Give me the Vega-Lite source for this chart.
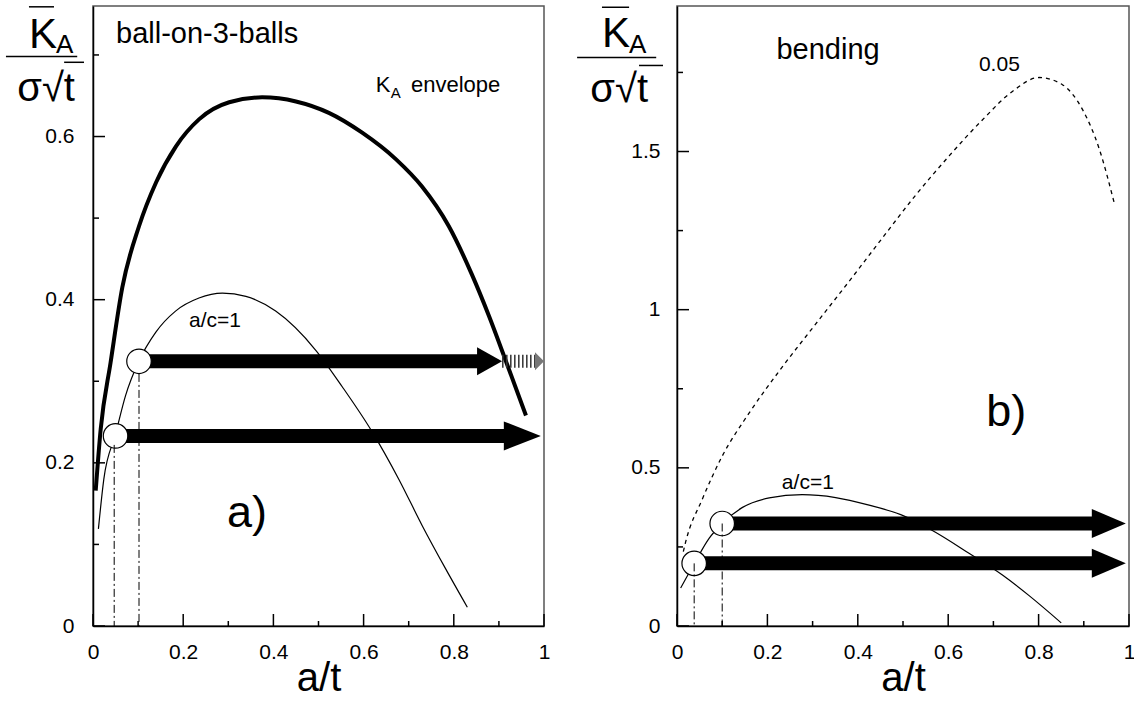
{
  "$schema": "https://vega.github.io/schema/vega-lite/v6.json",
  "padding": {"left": 4, "top": 5, "right": 0, "bottom": 0},
  "bounds": "flush",
  "spacing": 133,
  "config": {
    "font": "Liberation Sans",
    "view": {"stroke": "#555", "strokeWidth": 1.5},
    "axis": {"grid": false, "ticks": false, "domainColor": "black", "domainWidth": 1.5, "labelColor": "black", "labelFontSize": 21, "labelFont": "Liberation Sans", "titleFont": "Liberation Sans", "titleFontWeight": "normal", "titleColor": "black", "titleFontSize": 40},
    "text": {"color": "black", "baseline": "alphabetic", "align": "left", "font": "Liberation Sans"}
  },
  "datasets": {
    "curvesL": [
      {"s": "env", "x": 0.006, "y": 0.166}, {"s": "env", "x": 0.017, "y": 0.241}, {"s": "env", "x": 0.039, "y": 0.323}, {"s": "env", "x": 0.065, "y": 0.415}, {"s": "env", "x": 0.102, "y": 0.49}, {"s": "env", "x": 0.14, "y": 0.544}, {"s": "env", "x": 0.184, "y": 0.588}, {"s": "env", "x": 0.235, "y": 0.621}, {"s": "env", "x": 0.302, "y": 0.642}, {"s": "env", "x": 0.375, "y": 0.648}, {"s": "env", "x": 0.45, "y": 0.643}, {"s": "env", "x": 0.523, "y": 0.629}, {"s": "env", "x": 0.596, "y": 0.605}, {"s": "env", "x": 0.672, "y": 0.572}, {"s": "env", "x": 0.729, "y": 0.539}, {"s": "env", "x": 0.789, "y": 0.49}, {"s": "env", "x": 0.84, "y": 0.431}, {"s": "env", "x": 0.878, "y": 0.38}, {"s": "env", "x": 0.916, "y": 0.324}, {"s": "env", "x": 0.96, "y": 0.258},
      {"s": "ac", "x": 0.012, "y": 0.119}, {"s": "ac", "x": 0.024, "y": 0.18}, {"s": "ac", "x": 0.05, "y": 0.235}, {"s": "ac", "x": 0.072, "y": 0.282}, {"s": "ac", "x": 0.102, "y": 0.325}, {"s": "ac", "x": 0.139, "y": 0.36}, {"s": "ac", "x": 0.183, "y": 0.386}, {"s": "ac", "x": 0.235, "y": 0.402}, {"s": "ac", "x": 0.287, "y": 0.408}, {"s": "ac", "x": 0.339, "y": 0.404}, {"s": "ac", "x": 0.405, "y": 0.386}, {"s": "ac", "x": 0.494, "y": 0.338}, {"s": "ac", "x": 0.553, "y": 0.293}, {"s": "ac", "x": 0.619, "y": 0.238}, {"s": "ac", "x": 0.678, "y": 0.18}, {"s": "ac", "x": 0.73, "y": 0.123}, {"s": "ac", "x": 0.782, "y": 0.07}, {"s": "ac", "x": 0.83, "y": 0.023}
    ],
    "curvesR": [
      {"s": "ac", "x": 0.008, "y": 0.12}, {"s": "ac", "x": 0.038, "y": 0.197}, {"s": "ac", "x": 0.071, "y": 0.277}, {"s": "ac", "x": 0.1, "y": 0.324}, {"s": "ac", "x": 0.145, "y": 0.375}, {"s": "ac", "x": 0.204, "y": 0.405}, {"s": "ac", "x": 0.277, "y": 0.415}, {"s": "ac", "x": 0.351, "y": 0.406}, {"s": "ac", "x": 0.425, "y": 0.382}, {"s": "ac", "x": 0.495, "y": 0.352}, {"s": "ac", "x": 0.565, "y": 0.302}, {"s": "ac", "x": 0.646, "y": 0.23}, {"s": "ac", "x": 0.72, "y": 0.161}, {"s": "ac", "x": 0.779, "y": 0.096}, {"s": "ac", "x": 0.85, "y": 0.01},
      {"s": "d", "x": 0.014, "y": 0.235}, {"s": "d", "x": 0.019, "y": 0.265}, {"s": "d", "x": 0.056, "y": 0.401}, {"s": "d", "x": 0.1, "y": 0.537}, {"s": "d", "x": 0.159, "y": 0.672}, {"s": "d", "x": 0.233, "y": 0.819}, {"s": "d", "x": 0.307, "y": 0.955}, {"s": "d", "x": 0.381, "y": 1.09}, {"s": "d", "x": 0.454, "y": 1.226}, {"s": "d", "x": 0.528, "y": 1.362}, {"s": "d", "x": 0.602, "y": 1.486}, {"s": "d", "x": 0.675, "y": 1.599}, {"s": "d", "x": 0.742, "y": 1.69}, {"s": "d", "x": 0.801, "y": 1.734}, {"s": "d", "x": 0.852, "y": 1.712}, {"s": "d", "x": 0.897, "y": 1.633}, {"s": "d", "x": 0.934, "y": 1.509}, {"s": "d", "x": 0.967, "y": 1.339}
    ],
    "arrowsL": [
      {"id": "up", "x": 0.102, "x2": 0.86, "xt": 0.907, "y": 0.3245},
      {"id": "lo", "x": 0.05, "x2": 0.92, "xt": 0.993, "y": 0.233}
    ],
    "hatchL": [{"x": 0.907, "x2": 0.985, "xt": 1.0, "y": 0.3245}],
    "arrowsR": [
      {"id": "up", "x": 0.1, "x2": 0.925, "xt": 0.993, "y": 0.324},
      {"id": "lo", "x": 0.038, "x2": 0.925, "xt": 0.993, "y": 0.198}
    ],
    "circlesL": [{"x": 0.102, "y": 0.3245}, {"x": 0.05, "y": 0.233}],
    "circlesR": [{"x": 0.1, "y": 0.324}, {"x": 0.038, "y": 0.198}],
    "vlinesL": [{"x": 0.047, "y": 0.222}, {"x": 0.102, "y": 0.309}],
    "vlinesR": [{"x": 0.038, "y": 0.198}, {"x": 0.1, "y": 0.324}],
    "xticks": [
      {"x": 0, "y": 0, "m": "M"}, {"x": 0.1, "y": 0, "m": "m"}, {"x": 0.2, "y": 0, "m": "M"}, {"x": 0.3, "y": 0, "m": "m"}, {"x": 0.4, "y": 0, "m": "M"}, {"x": 0.5, "y": 0, "m": "m"}, {"x": 0.6, "y": 0, "m": "M"}, {"x": 0.7, "y": 0, "m": "m"}, {"x": 0.8, "y": 0, "m": "M"}, {"x": 0.9, "y": 0, "m": "m"}, {"x": 1, "y": 0, "m": "M"}
    ],
    "yticksL": [
      {"x": 0, "y": 0, "m": "M"}, {"x": 0, "y": 0.1, "m": "m"}, {"x": 0, "y": 0.2, "m": "M"}, {"x": 0, "y": 0.3, "m": "m"}, {"x": 0, "y": 0.4, "m": "M"}, {"x": 0, "y": 0.5, "m": "m"}, {"x": 0, "y": 0.6, "m": "M"}, {"x": 0, "y": 0.7, "m": "m"}
    ],
    "yticksR": [
      {"x": 0, "y": 0, "m": "M"}, {"x": 0, "y": 0.25, "m": "m"}, {"x": 0, "y": 0.5, "m": "M"}, {"x": 0, "y": 0.75, "m": "m"}, {"x": 0, "y": 1, "m": "M"}, {"x": 0, "y": 1.25, "m": "m"}, {"x": 0, "y": 1.5, "m": "M"}, {"x": 0, "y": 1.75, "m": "m"}
    ],
    "textL": [
      {"k": "title", "x": 0.051, "y": 0.715, "t": "ball-on-3-balls"},
      {"k": "med", "x": 0.627, "y": 0.655, "t": "K"},
      {"k": "sub", "x": 0.66, "y": 0.647, "t": "A"},
      {"k": "med", "x": 0.705, "y": 0.655, "t": "envelope"},
      {"k": "lab", "x": 0.213, "y": 0.366, "t": "a/c=1"},
      {"k": "big", "x": 0.297, "y": 0.121, "t": "a)"},
      {"k": "fracK", "x": -0.142, "y": 0.709, "t": "K"},
      {"k": "fracA", "x": -0.082, "y": 0.703, "t": "A"},
      {"k": "fracD", "x": -0.104, "y": 0.643, "t": "σ√t"}
    ],
    "textR": [
      {"k": "title", "x": 0.22, "y": 1.791, "t": "bending"},
      {"k": "lab", "x": 0.668, "y": 1.756, "t": "0.05"},
      {"k": "lab", "x": 0.232, "y": 0.434, "t": "a/c=1"},
      {"k": "big", "x": 0.684, "y": 0.633, "t": "b)"},
      {"k": "fracK", "x": -0.166, "y": 1.829, "t": "K"},
      {"k": "fracA", "x": -0.106, "y": 1.81, "t": "A"},
      {"k": "fracD", "x": -0.128, "y": 1.655, "t": "σ√t"}
    ],
    "rulesL": [
      {"x": -0.142, "x2": -0.0865, "y": 0.759},
      {"x": -0.193, "x2": -0.035, "y": 0.698},
      {"x": -0.064, "x2": -0.02, "y": 0.691}
    ],
    "rulesR": [
      {"x": -0.166, "x2": -0.106, "y": 1.956},
      {"x": -0.221, "x2": -0.046, "y": 1.797},
      {"x": -0.084, "x2": -0.031, "y": 1.772}
    ]
  },
  "hconcat": [
    {
      "width": 451,
      "height": 620,
      "encoding": {
        "x": {"field": "x", "type": "quantitative", "title": "a/t", "scale": {"domain": [0, 1], "nice": false, "zero": false},
          "axis": {"values": [0, 0.2, 0.4, 0.6, 0.8, 1], "format": "~g", "labelPadding": 15, "labelFlush": false, "labelOverlap": false, "titlePadding": -4}},
        "y": {"field": "y", "type": "quantitative", "title": null, "scale": {"domain": [0, 0.76], "nice": false, "zero": false},
          "axis": {"values": [0, 0.2, 0.4, 0.6], "format": "~g", "labelPadding": 19, "labelOverlap": false}}
      },
      "layer": [
        {"data": {"name": "xticks"}, "transform": [{"filter": "datum.m==='M'"}], "mark": {"type": "tick", "orient": "vertical", "color": "black", "opacity": 1, "thickness": 1.5, "size": 12, "yOffset": -6}, "encoding": {}},
        {"data": {"name": "xticks"}, "transform": [{"filter": "datum.m==='m'"}], "mark": {"type": "tick", "orient": "vertical", "color": "black", "opacity": 1, "thickness": 1.5, "size": 5, "yOffset": -2.5}, "encoding": {}},
        {"data": {"name": "yticksL"}, "transform": [{"filter": "datum.m==='M'"}], "mark": {"type": "tick", "orient": "horizontal", "color": "black", "opacity": 1, "thickness": 1.5, "size": 12, "xOffset": 6}, "encoding": {}},
        {"data": {"name": "yticksL"}, "transform": [{"filter": "datum.m==='m'"}], "mark": {"type": "tick", "orient": "horizontal", "color": "black", "opacity": 1, "thickness": 1.5, "size": 6, "xOffset": 3}, "encoding": {}},
        {"data": {"name": "curvesL"}, "transform": [{"filter": "datum.s==='env'"}], "mark": {"type": "line", "color": "black", "strokeWidth": 4, "interpolate": "monotone"}, "encoding": {}},
        {"data": {"name": "curvesL"}, "transform": [{"filter": "datum.s==='ac'"}], "mark": {"type": "line", "color": "black", "strokeWidth": 1.2, "interpolate": "monotone"}, "encoding": {}},
        {"data": {"name": "arrowsL"}, "mark": {"type": "rule", "color": "black", "strokeWidth": 14, "strokeCap": "butt"}, "encoding": {"x2": {"field": "x2"}}},
        {"data": {"name": "arrowsL"}, "transform": [{"filter": "datum.id==='up'"}], "mark": {"type": "point", "shape": "M0,0L-25,-14L-25,14Z", "size": 4, "filled": true, "color": "black", "opacity": 1, "strokeWidth": 0}, "encoding": {"x": {"field": "xt", "type": "quantitative"}}},
        {"data": {"name": "arrowsL"}, "transform": [{"filter": "datum.id==='lo'"}], "mark": {"type": "point", "shape": "M0,0L-37,-14.5L-37,14.5Z", "size": 4, "filled": true, "color": "black", "opacity": 1, "strokeWidth": 0}, "encoding": {"x": {"field": "xt", "type": "quantitative"}}},
        {"data": {"name": "hatchL"}, "mark": {"type": "rule", "color": "#333", "strokeWidth": 13, "strokeCap": "butt", "strokeDash": [1.5, 2.5]}, "encoding": {"x2": {"field": "x2"}}},
        {"data": {"name": "hatchL"}, "mark": {"type": "point", "shape": "M0,0L-9,-9L-9,9Z", "size": 4, "filled": true, "color": "#777", "opacity": 1, "strokeWidth": 0}, "encoding": {"x": {"field": "xt", "type": "quantitative"}}},
        {"data": {"name": "circlesL"}, "mark": {"type": "point", "shape": "circle", "size": 600, "fill": "white", "stroke": "black", "strokeWidth": 1.2, "opacity": 1, "fillOpacity": 1}, "encoding": {}},
        {"data": {"name": "vlinesL"}, "mark": {"type": "rule", "color": "black", "strokeWidth": 1, "strokeDash": [8, 3, 2, 3]}, "encoding": {"y2": {"datum": 0}}},
        {"data": {"name": "rulesL"}, "mark": {"type": "rule", "color": "black", "strokeWidth": 1.5}, "encoding": {"x2": {"field": "x2"}}},
        {"data": {"name": "textL"}, "transform": [{"filter": "datum.k==='title'"}], "mark": {"type": "text", "fontSize": 29}, "encoding": {"text": {"field": "t"}}},
        {"data": {"name": "textL"}, "transform": [{"filter": "datum.k==='med'"}], "mark": {"type": "text", "fontSize": 22}, "encoding": {"text": {"field": "t"}}},
        {"data": {"name": "textL"}, "transform": [{"filter": "datum.k==='sub'"}], "mark": {"type": "text", "fontSize": 15}, "encoding": {"text": {"field": "t"}}},
        {"data": {"name": "textL"}, "transform": [{"filter": "datum.k==='lab'"}], "mark": {"type": "text", "fontSize": 21}, "encoding": {"text": {"field": "t"}}},
        {"data": {"name": "textL"}, "transform": [{"filter": "datum.k==='big'"}], "mark": {"type": "text", "fontSize": 45}, "encoding": {"text": {"field": "t"}}},
        {"data": {"name": "textL"}, "transform": [{"filter": "datum.k==='fracK'"}], "mark": {"type": "text", "fontSize": 42}, "encoding": {"text": {"field": "t"}}},
        {"data": {"name": "textL"}, "transform": [{"filter": "datum.k==='fracA'"}], "mark": {"type": "text", "fontSize": 26}, "encoding": {"text": {"field": "t"}}},
        {"data": {"name": "textL"}, "transform": [{"filter": "datum.k==='fracD'"}], "mark": {"type": "text", "fontSize": 40, "align": "center"}, "encoding": {"text": {"field": "t"}}}
      ]
    },
    {
      "width": 452,
      "height": 620,
      "encoding": {
        "x": {"field": "x", "type": "quantitative", "title": "a/t", "scale": {"domain": [0, 1], "nice": false, "zero": false},
          "axis": {"values": [0, 0.2, 0.4, 0.6, 0.8, 1], "format": "~g", "labelPadding": 15, "labelFlush": false, "labelOverlap": false, "titlePadding": -4}},
        "y": {"field": "y", "type": "quantitative", "title": null, "scale": {"domain": [0, 1.96], "nice": false, "zero": false},
          "axis": {"values": [0, 0.5, 1, 1.5], "format": "~g", "labelPadding": 17, "labelOverlap": false}}
      },
      "layer": [
        {"data": {"name": "xticks"}, "transform": [{"filter": "datum.m==='M'"}], "mark": {"type": "tick", "orient": "vertical", "color": "black", "opacity": 1, "thickness": 1.5, "size": 12, "yOffset": -6}, "encoding": {}},
        {"data": {"name": "xticks"}, "transform": [{"filter": "datum.m==='m'"}], "mark": {"type": "tick", "orient": "vertical", "color": "black", "opacity": 1, "thickness": 1.5, "size": 5, "yOffset": -2.5}, "encoding": {}},
        {"data": {"name": "yticksR"}, "transform": [{"filter": "datum.m==='M'"}], "mark": {"type": "tick", "orient": "horizontal", "color": "black", "opacity": 1, "thickness": 1.5, "size": 12, "xOffset": 6}, "encoding": {}},
        {"data": {"name": "yticksR"}, "transform": [{"filter": "datum.m==='m'"}], "mark": {"type": "tick", "orient": "horizontal", "color": "black", "opacity": 1, "thickness": 1.5, "size": 6, "xOffset": 3}, "encoding": {}},
        {"data": {"name": "curvesR"}, "transform": [{"filter": "datum.s==='d'"}], "mark": {"type": "line", "color": "black", "strokeWidth": 1.3, "strokeDash": [4, 4], "interpolate": "monotone"}, "encoding": {}},
        {"data": {"name": "curvesR"}, "transform": [{"filter": "datum.s==='ac'"}], "mark": {"type": "line", "color": "black", "strokeWidth": 1.2, "interpolate": "monotone"}, "encoding": {}},
        {"data": {"name": "arrowsR"}, "mark": {"type": "rule", "color": "black", "strokeWidth": 14, "strokeCap": "butt"}, "encoding": {"x2": {"field": "x2"}}},
        {"data": {"name": "arrowsR"}, "mark": {"type": "point", "shape": "M0,0L-34,-14.5L-34,14.5Z", "size": 4, "filled": true, "color": "black", "opacity": 1, "strokeWidth": 0}, "encoding": {"x": {"field": "xt", "type": "quantitative"}}},
        {"data": {"name": "circlesR"}, "mark": {"type": "point", "shape": "circle", "size": 600, "fill": "white", "stroke": "black", "strokeWidth": 1.2, "opacity": 1, "fillOpacity": 1}, "encoding": {}},
        {"data": {"name": "vlinesR"}, "mark": {"type": "rule", "color": "black", "strokeWidth": 1, "strokeDash": [8, 3, 2, 3]}, "encoding": {"y2": {"datum": 0}}},
        {"data": {"name": "rulesR"}, "mark": {"type": "rule", "color": "black", "strokeWidth": 1.5}, "encoding": {"x2": {"field": "x2"}}},
        {"data": {"name": "textR"}, "transform": [{"filter": "datum.k==='title'"}], "mark": {"type": "text", "fontSize": 29}, "encoding": {"text": {"field": "t"}}},
        {"data": {"name": "textR"}, "transform": [{"filter": "datum.k==='lab'"}], "mark": {"type": "text", "fontSize": 21}, "encoding": {"text": {"field": "t"}}},
        {"data": {"name": "textR"}, "transform": [{"filter": "datum.k==='big'"}], "mark": {"type": "text", "fontSize": 45}, "encoding": {"text": {"field": "t"}}},
        {"data": {"name": "textR"}, "transform": [{"filter": "datum.k==='fracK'"}], "mark": {"type": "text", "fontSize": 42}, "encoding": {"text": {"field": "t"}}},
        {"data": {"name": "textR"}, "transform": [{"filter": "datum.k==='fracA'"}], "mark": {"type": "text", "fontSize": 26}, "encoding": {"text": {"field": "t"}}},
        {"data": {"name": "textR"}, "transform": [{"filter": "datum.k==='fracD'"}], "mark": {"type": "text", "fontSize": 40, "align": "center"}, "encoding": {"text": {"field": "t"}}}
      ]
    }
  ]
}
